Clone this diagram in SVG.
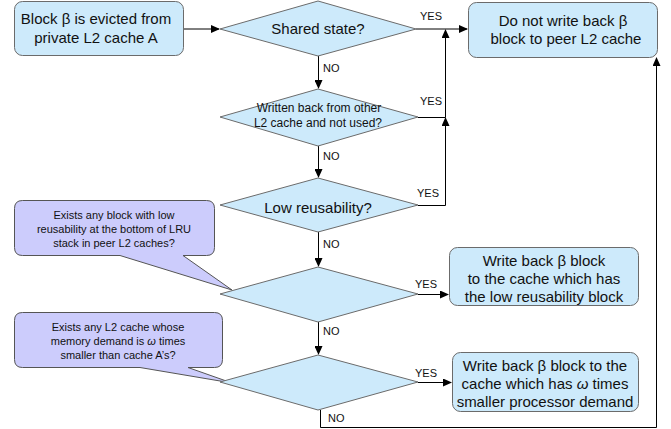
<svg xmlns="http://www.w3.org/2000/svg" width="671" height="429" viewBox="0 0 671 429">
<defs>
<marker id="ah" markerWidth="9" markerHeight="8" refX="8" refY="4" orient="auto" markerUnits="userSpaceOnUse">
<path d="M0,0 L9,4 L0,8 Z" fill="#000"/>
</marker>
<style>
.box{fill:#cdeafb;stroke:#6b6b6b;stroke-width:1}
.dia{fill:#cdeafb;stroke:#6b6b6b;stroke-width:1}
.call{fill:#ccccfc;stroke:#555;stroke-width:1}
.t{font-family:"Liberation Sans",Arial,sans-serif;font-size:15px;fill:#111;text-anchor:middle}
.s{font-family:"Liberation Sans",Arial,sans-serif;font-size:11px;fill:#111;text-anchor:middle}
.m{font-family:"Liberation Sans",Arial,sans-serif;font-size:12px;fill:#111;text-anchor:middle}
.lb{font-family:"Liberation Sans",Arial,sans-serif;font-size:11px;fill:#111}
.ln{fill:none;stroke:#000;stroke-width:1}
</style>
</defs>
<rect width="671" height="429" fill="#fff"/>

<g id="connectors">
<path class="ln" d="M183,29 H219" marker-end="url(#ah)"/>
<path class="ln" d="M416,29 H467" marker-end="url(#ah)"/>
<path class="ln" d="M318.5,56 V88" marker-end="url(#ah)"/>
<path class="ln" d="M418,117.5 H445.5 V30" marker-end="url(#ah)"/>
<path class="ln" d="M318.5,146 V177" marker-end="url(#ah)"/>
<path class="ln" d="M418,205.5 H445.5 V118" marker-end="url(#ah)"/>
<path class="ln" d="M318.5,232 V266" marker-end="url(#ah)"/>
<path class="ln" d="M418,294.5 H448" marker-end="url(#ah)"/>
<path class="ln" d="M318.5,322 V354" marker-end="url(#ah)"/>
<path class="ln" d="M418,382.5 H451" marker-end="url(#ah)"/>
<path class="ln" d="M320.5,410 V427.5 H656.5 V58" marker-end="url(#ah)"/>
<text class="lb" x="420" y="20">YES</text>
<text class="lb" x="323" y="72">NO</text>
<text class="lb" x="420" y="105">YES</text>
<text class="lb" x="323" y="160">NO</text>
<text class="lb" x="417" y="197">YES</text>
<text class="lb" x="323" y="248">NO</text>
<text class="lb" x="415" y="288">YES</text>
<text class="lb" x="323" y="335">NO</text>
<text class="lb" x="415" y="377">YES</text>
<text class="lb" x="328" y="422">NO</text>
</g>

<g id="start">
<rect class="box" x="14.5" y="1.5" width="169" height="54" rx="8"/>
<text class="t" x="96" y="24">Block β is evicted from</text>
<text class="t" x="96" y="43">private L2 cache A</text>
</g>

<g id="d1">
<polygon class="dia" points="318,1 416,29 318,56 220,29"/>
<text class="t" x="318" y="34">Shared state?</text>
</g>

<g id="nowb">
<rect class="box" x="468.5" y="2.5" width="189" height="55" rx="8"/>
<text class="t" x="563" y="26">Do not write back β</text>
<text class="t" x="566" y="44">block to peer L2 cache</text>
</g>

<g id="d2">
<polygon class="dia" points="318,89 418,117 318,146 220,117"/>
<text class="m" x="319" y="112">Written back from other</text>
<text class="m" x="318" y="127">L2 cache and not used?</text>
</g>

<g id="d3">
<polygon class="dia" points="318,178 418,205 318,232 220,205"/>
<text class="t" x="318" y="213">Low reusability?</text>
</g>

<g id="c1">
<path class="call" d="M22.5,200.5 H206.5 Q214.5,200.5 214.5,208.5 V247.5 Q214.5,255.5 206.5,255.5 H183 L232,290 L120,255.5 H22.5 Q14.5,255.5 14.5,247.5 V208.5 Q14.5,200.5 22.5,200.5 Z"/>
<text class="s" x="114" y="219">Exists any block with low</text>
<text class="s" x="114" y="233">reusability at the bottom of LRU</text>
<text class="s" x="114" y="247">stack in peer L2 caches?</text>
</g>

<g id="d4">
<polygon class="dia" points="318,267 418,294 318,322 220,294"/>
</g>

<g id="wb1">
<rect class="box" x="449.5" y="247.5" width="189" height="58" rx="8"/>
<text class="t" x="544" y="266">Write back β block</text>
<text class="t" x="544" y="284">to the cache which has</text>
<text class="t" x="544" y="302">the low reusability block</text>
</g>

<g id="c2">
<path class="call" d="M22.5,312.5 H214.5 Q222.5,312.5 222.5,320.5 V359.5 Q222.5,367.5 214.5,367.5 H188 L232,383 L140,367.5 H22.5 Q14.5,367.5 14.5,359.5 V320.5 Q14.5,312.5 22.5,312.5 Z"/>
<text class="s" x="118" y="331">Exists any L2 cache whose</text>
<text class="s" x="118" y="345">memory demand is <tspan font-style="italic">ω</tspan> times</text>
<text class="s" x="118" y="359">smaller than cache A’s?</text>
</g>

<g id="d5">
<polygon class="dia" points="318,355 418,382 318,410 220,382"/>
</g>

<g id="wb2">
<rect class="box" x="452.5" y="352.5" width="186" height="59" rx="8"/>
<text class="t" x="545" y="371">Write back β block to the</text>
<text class="t" x="545" y="389">cache which has <tspan font-style="italic">ω</tspan> times</text>
<text class="t" x="545" y="407">smaller processor demand</text>
</g>
</svg>
